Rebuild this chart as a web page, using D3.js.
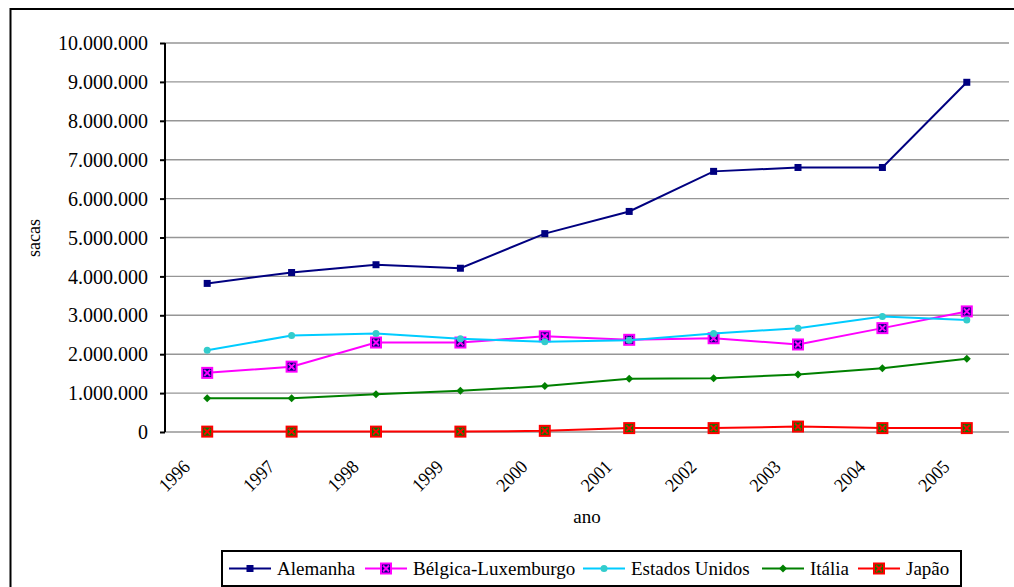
<!DOCTYPE html>
<html>
<head>
<meta charset="utf-8">
<script src="https://cdn.jsdelivr.net/npm/d3@7"></script>
</head>
<body style="margin:0;background:#fff">
<svg id="fig" width="1014" height="587" style="display:block"></svg>
<script>
// ---- data ----
const years = ["1996", "1997", "1998", "1999", "2000", "2001", "2002", "2003", "2004", "2005"];
const alemanha = [3820000, 4100000, 4300000, 4210000, 5100000, 5670000, 6700000, 6800000, 6800000, 8990000];
const belgica  = [1520000, 1680000, 2300000, 2300000, 2460000, 2370000, 2410000, 2250000, 2670000, 3100000];
const eua      = [2100000, 2480000, 2530000, 2400000, 2320000, 2360000, 2530000, 2670000, 2970000, 2880000];
const italia   = [870000, 870000, 970000, 1060000, 1180000, 1370000, 1380000, 1480000, 1640000, 1880000];
const japao    = [10000, 10000, 10000, 10000, 30000, 100000, 100000, 140000, 100000, 100000];
const seriesNames = ["Alemanha", "Bélgica-Luxemburgo", "Estados Unidos", "Itália", "Japão"];
const yTicks = [0, 1000000, 2000000, 3000000, 4000000, 5000000, 6000000, 7000000, 8000000, 9000000, 10000000];
const yLabel = "sacas";
const xLabel = "ano";

(function () {
const FONT = "Liberation Serif";
const FSTYLE = "font-family:'Liberation Serif'";
// ---- styles ----
const styles = [
  { line: "#000080", marker: "square", fill: "#000080", stroke: "#000080", size: 7 },
  { line: "#FF00FF", marker: "xsquare", fill: "#000080", stroke: "#FF00FF", cross: "#FF00FF", size: 10 },
  { line: "#00CCFF", marker: "circle", fill: "#33CCCC", stroke: "#33CCCC", size: 7 },
  { line: "#008000", marker: "diamond", fill: "#008000", stroke: "#008000", size: 8 },
  { line: "#FF0000", marker: "xsquare", fill: "#008000", stroke: "#FF0000", cross: "#FF0000", size: 10 }
];
const allValues = [alemanha, belgica, eua, italia, japao];

const svg = d3.select("#fig");
const pLeft = 165, pRight = 1009, pTop = 43, pBottom = 432;

const x = d3.scaleBand().domain(years).range([pLeft, pRight]).padding(0);
const cx = d => x(d) + x.bandwidth() / 2;
const y = d3.scaleLinear().domain([0, 10000000]).range([pBottom, pTop]);
const loc = d3.formatLocale({ decimal: ",", thousands: ".", grouping: [3], currency: ["", ""] });
const fmt = loc.format(",d");

// outer frame
svg.append("rect").attr("x", 10.5).attr("y", 9).attr("width", 1020).attr("height", 600)
  .attr("fill", "none").attr("stroke", "#000").attr("stroke-width", 2);

// gridlines
svg.append("g").selectAll("line").data(yTicks).join("line")
  .attr("x1", pLeft).attr("x2", pRight)
  .attr("y1", d => y(d)).attr("y2", d => y(d))
  .attr("stroke", "#969696").attr("stroke-width", 1.4);

// y axis
const yAxis = d3.axisLeft(y).tickValues(yTicks).tickFormat(fmt).tickSize(5).tickPadding(12);
const yg = svg.append("g").attr("transform", `translate(${pLeft},0)`).call(yAxis);
yg.attr("font-family", FONT).attr("style", FSTYLE);
yg.select(".domain").attr("stroke", "#000").attr("stroke-width", 2).attr("d", `M0,${pTop}V${pBottom}`);
yg.selectAll(".tick line").attr("stroke", "#000").attr("stroke-width", 2);
yg.selectAll(".tick text").attr("font-family", FONT).attr("style", FSTYLE)
  .attr("font-size", 20).attr("fill", "#000").attr("dy", "0.33em");

// x labels
const xg = svg.append("g").attr("transform", `translate(0,${pBottom})`)
  .call(d3.axisBottom(x).tickSize(0).tickPadding(0));
xg.attr("font-family", FONT).attr("style", FSTYLE);
xg.select(".domain").remove();
xg.selectAll(".tick text")
  .attr("font-family", FONT).attr("style", FSTYLE).attr("font-size", 19).attr("fill", "#000")
  .attr("text-anchor", "end").attr("dy", 0)
  .attr("transform", "translate(-16,36) rotate(-45)")
  .attr("textLength", 35).attr("lengthAdjust", "spacingAndGlyphs");

// axis titles
svg.append("text").attr("x", (pLeft + pRight) / 2).attr("y", 523).attr("text-anchor", "middle")
  .attr("font-family", FONT).attr("style", FSTYLE).attr("font-size", 19).text(xLabel);
svg.append("text").attr("transform", "translate(40,238) rotate(-90)").attr("text-anchor", "middle")
  .attr("font-family", FONT).attr("style", FSTYLE).attr("font-size", 18).text(yLabel);

// markers
function drawMarker(g, st, px, py) {
  const s = st.size;
  if (st.marker === "square") {
    g.append("rect").attr("x", px - s / 2).attr("y", py - s / 2).attr("width", s).attr("height", s)
      .attr("fill", st.fill);
  } else if (st.marker === "circle") {
    g.append("circle").attr("cx", px).attr("cy", py).attr("r", s / 2).attr("fill", st.fill);
  } else if (st.marker === "diamond") {
    g.append("path").attr("d", `M${px},${py - s / 2}L${px + s / 2},${py}L${px},${py + s / 2}L${px - s / 2},${py}Z`)
      .attr("fill", st.fill);
  } else if (st.marker === "xsquare") {
    g.append("rect").attr("x", px - s / 2).attr("y", py - s / 2).attr("width", s).attr("height", s)
      .attr("fill", st.fill).attr("stroke", st.stroke).attr("stroke-width", 2);
    const h = s / 2 - 2;
    g.append("path").attr("d", `M${px - h},${py - h}L${px + h},${py + h}M${px + h},${py - h}L${px - h},${py + h}`)
      .attr("stroke", st.cross).attr("stroke-width", 2);
  }
}

const line = d3.line().x((d, i) => cx(years[i])).y(d => y(d));
allValues.forEach((vals, si) => {
  const st = styles[si];
  const g = svg.append("g");
  g.append("path").attr("d", line(vals)).attr("fill", "none")
    .attr("stroke", st.line).attr("stroke-width", 2);
  vals.forEach((v, i) => drawMarker(g, st, cx(years[i]), y(v)));
});

const lg = svg.append("g");
const lY = 568.5;
const slots = [229, 365, 583, 762, 858];
seriesNames.forEach((name, si) => {
  const st = styles[si];
  const lx = slots[si];
  const g = lg.append("g");
  g.append("line").attr("x1", lx).attr("x2", lx + 42).attr("y1", lY).attr("y2", lY)
    .attr("stroke", st.line).attr("stroke-width", 2);
  drawMarker(g, st, lx + 21, lY);
  g.append("text").attr("x", lx + 48).attr("y", lY + 6.5)
    .attr("font-family", FONT).attr("style", FSTYLE).attr("font-size", 19).text(name);
});
lg.insert("rect", ":first-child").attr("x", 222).attr("y", 551).attr("width", 739).attr("height", 35)
  .attr("fill", "#fff").attr("stroke", "#000").attr("stroke-width", 2);
})();
</script>
</body>
</html>
